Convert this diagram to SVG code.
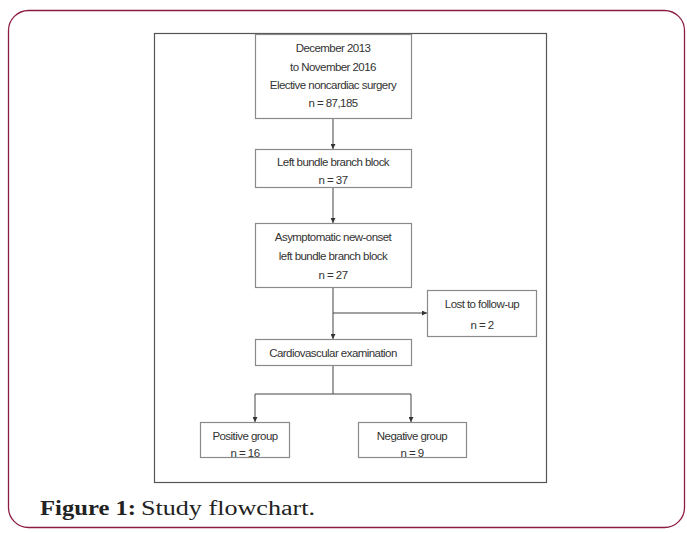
<svg xmlns="http://www.w3.org/2000/svg" width="687" height="533" viewBox="0 0 687 533">
<style>
.box{fill:#fff;stroke:#8a8a8a;stroke-width:1.2}
.t{font-family:"Liberation Sans",Arial,sans-serif;font-size:11.5px;fill:#333;text-anchor:middle;letter-spacing:-0.55px}
.c{fill:none;stroke:#444;stroke-width:1}
</style>
<defs>
<marker id="ah" viewBox="0 0 6 6" refX="6" refY="3" markerWidth="5" markerHeight="5" orient="auto" markerUnits="userSpaceOnUse">
<path d="M0,0 L6,3 L0,6 z" fill="#333"/>
</marker>
</defs>
<rect width="687" height="533" fill="#fff"/>
<rect id="outer" x="8.5" y="10.5" width="676" height="517" rx="20" ry="20" fill="none" stroke="#8c1d40" stroke-width="1.3"/>
<rect id="frame" x="154.5" y="33.5" width="392" height="449" fill="#fff" stroke="#555" stroke-width="1.2"/>
<g id="connectors">
<line class="c" x1="333" y1="118" x2="333" y2="149" marker-end="url(#ah)"/>
<line class="c" x1="333" y1="187" x2="333" y2="223" marker-end="url(#ah)"/>
<line class="c" x1="333" y1="287" x2="333" y2="339" marker-end="url(#ah)"/>
<line class="c" x1="333" y1="313" x2="427" y2="313" marker-end="url(#ah)"/>
<polyline class="c" points="333,365 333,394"/>
<polyline class="c" points="255,394 411,394"/>
<line class="c" x1="255" y1="394" x2="255" y2="422" marker-end="url(#ah)"/>
<line class="c" x1="411" y1="394" x2="411" y2="422" marker-end="url(#ah)"/>
</g>
<g id="n1">
<rect class="box" x="255.5" y="34.5" width="156" height="84"/>
<text class="t" x="333" y="52">December 2013</text>
<text class="t" x="333" y="71">to November 2016</text>
<text class="t" x="333" y="89">Elective noncardiac surgery</text>
<text class="t" x="333" y="107">n = 87,185</text>
</g>
<g id="n2">
<rect class="box" x="255.5" y="149.5" width="156" height="38"/>
<text class="t" x="333" y="166">Left bundle branch block</text>
<text class="t" x="333" y="184">n = 37</text>
</g>
<g id="n3">
<rect class="box" x="255.5" y="223.5" width="156" height="64"/>
<text class="t" x="333" y="241">Asymptomatic new-onset</text>
<text class="t" x="333" y="260">left bundle branch block</text>
<text class="t" x="333" y="279">n = 27</text>
</g>
<g id="n4">
<rect class="box" x="427.5" y="290.5" width="109" height="46"/>
<text class="t" x="482" y="308">Lost to follow-up</text>
<text class="t" x="482" y="329">n = 2</text>
</g>
<g id="n5">
<rect class="box" x="255.5" y="339.5" width="156" height="26"/>
<text class="t" x="333" y="357">Cardiovascular examination</text>
</g>
<g id="n6">
<rect class="box" x="200.5" y="422.5" width="89" height="35"/>
<text class="t" x="245" y="440">Positive group</text>
<text class="t" x="245" y="457">n = 16</text>
</g>
<g id="n7">
<rect class="box" x="358.5" y="422.5" width="108" height="35"/>
<text class="t" x="412" y="440">Negative group</text>
<text class="t" x="412" y="457">n = 9</text>
</g>
<text x="40" y="515" font-family="'Liberation Serif','DejaVu Serif',serif" font-size="20px" fill="#222"><tspan font-weight="bold" textLength="96" lengthAdjust="spacingAndGlyphs">Figure 1:</tspan><tspan dx="5" textLength="174" lengthAdjust="spacingAndGlyphs">Study flowchart.</tspan></text>
</svg>
